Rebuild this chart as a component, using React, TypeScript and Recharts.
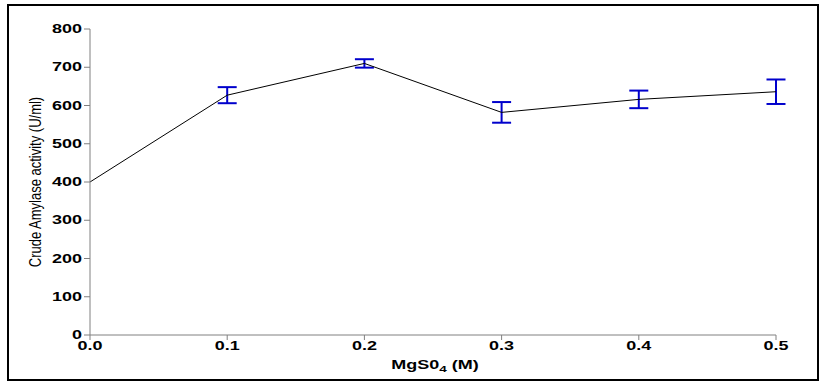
import React from 'react';
import { LineChart, Line, XAxis, YAxis, ErrorBar, Label } from 'recharts';

const concentrations = [0, 0.1, 0.2, 0.3, 0.4, 0.5];
const activity = [400, 627, 710, 582, 616, 636];
const activityErr = [0, 21, 11, 27, 23, 32];
const xTicks = [0, 0.1, 0.2, 0.3, 0.4, 0.5];
const yTicks = [0, 100, 200, 300, 400, 500, 600, 700, 800];

const data = concentrations.map((c, i) => ({ conc: c, activity: activity[i], err: activityErr[i] }));

const FONT = '"Liberation Sans", Arial, sans-serif';
// the original figure is stretched sideways, so the text is too
const STRETCH = 1.5;

const XTick = (props: any) => {
  const { x, y, payload } = props;
  return (
    <text
      x={x}
      y={y}
      dy={8.5}
      textAnchor="middle"
      fontFamily={FONT}
      fontWeight="bold"
      fontSize={12}
      fill="#000"
      transform={`translate(${x},0) scale(${STRETCH},1) translate(${-x},0)`}
    >
      {Number(payload.value).toFixed(1)}
    </text>
  );
};

const YTick = (props: any) => {
  const { x, y, payload } = props;
  return (
    <text
      x={x}
      y={y}
      dy={4.2}
      textAnchor="end"
      fontFamily={FONT}
      fontWeight="bold"
      fontSize={12}
      fill="#000"
      transform={`translate(${x},0) scale(${STRETCH},1) translate(${-x},0)`}
    >
      {payload.value}
    </text>
  );
};

const XLabel = () => (
  <text
    x={435}
    y={369}
    textAnchor="middle"
    fontFamily={FONT}
    fontWeight="bold"
    fontSize={12}
    fill="#000"
    transform={`translate(435,0) scale(${STRETCH},1) translate(-435,0)`}
  >
    MgS0
    <tspan dy={3} fontSize={9}>4</tspan>
    <tspan dy={-3}> (M)</tspan>
  </text>
);

const YLabel = () => (
  <text
    x={0}
    y={0}
    textAnchor="middle"
    fontFamily={FONT}
    fontSize={13}
    fill="#000"
    transform="translate(41,182) scale(1.3,1) rotate(-90)"
  >
    Crude Amylase activity (U/ml)
  </text>
);

export default function App() {
  return (
    <div style={{ position: 'fixed', left: 0, top: 0, width: 823, height: 385, background: '#fff' }}>
      <div
        style={{
          position: 'absolute',
          left: 7,
          top: 4,
          width: 812,
          height: 377,
          border: '2px solid #000',
          boxSizing: 'border-box',
        }}
      />
      <div style={{ position: 'absolute', left: 0, top: 0 }}>
        <LineChart width={823} height={385} data={data} margin={{ top: 29, right: 47, bottom: 20, left: 30 }}>
          <XAxis
            dataKey="conc"
            type="number"
            domain={[0, 0.5]}
            ticks={xTicks}
            interval={0}
            height={30}
            stroke="#808080"
            tickSize={5}
            tick={<XTick />}
          >
            <Label content={<XLabel />} />
          </XAxis>
          <YAxis
            type="number"
            domain={[0, 800]}
            ticks={yTicks}
            interval={0}
            width={60}
            stroke="#808080"
            tickSize={6}
            tick={<YTick />}
          >
            <Label content={<YLabel />} />
          </YAxis>
          <Line dataKey="activity" stroke="#000" strokeWidth={1} dot={false} isAnimationActive={false}>
            <ErrorBar dataKey="err" direction="y" width={9.5} stroke="#0000cc" strokeWidth={2} isAnimationActive={false} />
          </Line>
        </LineChart>
      </div>
    </div>
  );
}
